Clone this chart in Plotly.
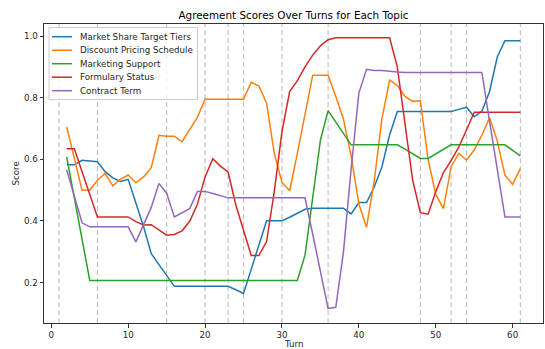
import plotly.graph_objects as go

turns = list(range(2, 62))

market_share = ([0.582, 0.582, 0.597, 0.595, 0.592, 0.560, 0.540, 0.528, 0.535, 0.458] +
                [0.382, 0.294, 0.259, 0.224, 0.188, 0.188, 0.188, 0.188, 0.188, 0.188] +
                [0.188, 0.188, 0.177, 0.165, 0.243, 0.322, 0.401, 0.401, 0.401, 0.412] +
                [0.425, 0.438, 0.441, 0.441, 0.441, 0.441, 0.441, 0.423, 0.460, 0.460] +
                [0.510, 0.576, 0.679, 0.755, 0.755, 0.755, 0.755, 0.755, 0.755, 0.755] +
                [0.755, 0.762, 0.769, 0.738, 0.756, 0.820, 0.932, 0.985, 0.985, 0.985])

discount = ([0.705, 0.603, 0.500, 0.500, 0.532, 0.554, 0.514, 0.536, 0.549, 0.524] +
            [0.543, 0.573, 0.678, 0.675, 0.675, 0.657, 0.695, 0.736, 0.795, 0.795] +
            [0.795, 0.795, 0.795, 0.795, 0.850, 0.838, 0.782, 0.619, 0.525, 0.498] +
            [0.619, 0.749, 0.873, 0.873, 0.873, 0.804, 0.730, 0.610, 0.455, 0.380] +
            [0.530, 0.731, 0.857, 0.839, 0.804, 0.788, 0.790, 0.600, 0.487, 0.440] +
            [0.576, 0.619, 0.597, 0.630, 0.678, 0.735, 0.660, 0.549, 0.519, 0.570])

marketing = ([0.608, 0.475, 0.341, 0.207, 0.207, 0.207, 0.207, 0.207, 0.207, 0.207] +
             [0.207, 0.207, 0.207, 0.207, 0.207, 0.207, 0.207, 0.207, 0.207, 0.207] +
             [0.207, 0.207, 0.207, 0.207, 0.207, 0.207, 0.207, 0.207, 0.207, 0.207] +
             [0.207, 0.289, 0.484, 0.662, 0.758, 0.722, 0.686, 0.647, 0.647, 0.647] +
             [0.647, 0.647, 0.647, 0.647, 0.633, 0.618, 0.603, 0.603, 0.618, 0.633] +
             [0.647, 0.647, 0.647, 0.647, 0.647, 0.647, 0.647, 0.647, 0.629, 0.611])

formulary = ([0.634, 0.634, 0.560, 0.487, 0.413, 0.413, 0.413, 0.413, 0.413, 0.398] +
             [0.387, 0.388, 0.371, 0.354, 0.356, 0.368, 0.399, 0.454, 0.543, 0.602] +
             [0.578, 0.558, 0.452, 0.366, 0.288, 0.288, 0.333, 0.495, 0.690, 0.820] +
             [0.855, 0.900, 0.938, 0.968, 0.988, 0.994, 0.994, 0.994, 0.994, 0.994] +
             [0.994, 0.994, 0.994, 0.900, 0.720, 0.532, 0.427, 0.422, 0.495, 0.557] +
             [0.596, 0.640, 0.695, 0.753, 0.753, 0.753, 0.753, 0.753, 0.753, 0.753])

contract = ([0.566, 0.479, 0.394, 0.381, 0.381, 0.381, 0.381, 0.381, 0.381, 0.332] +
            [0.387, 0.444, 0.522, 0.490, 0.413, 0.427, 0.440, 0.496, 0.496, 0.489] +
            [0.482, 0.475, 0.475, 0.475, 0.475, 0.475, 0.475, 0.475, 0.475, 0.475] +
            [0.475, 0.475, 0.357, 0.236, 0.116, 0.120, 0.300, 0.570, 0.815, 0.892] +
            [0.888, 0.888, 0.885, 0.883, 0.882, 0.882, 0.882, 0.882, 0.882, 0.882] +
            [0.882, 0.882, 0.882, 0.882, 0.882, 0.723, 0.568, 0.413, 0.413, 0.413])

event_turns = [1, 6, 15, 20, 23, 25, 30, 36, 48, 52, 54, 61]

series_names = ["Market Share Target Tiers", "Discount Pricing Schedule",
                "Marketing Support", "Formulary Status", "Contract Term"]
series_values = [market_share, discount, marketing, formulary, contract]
colors = ["#1f77b4", "#ff7f0e", "#2ca02c", "#d62728", "#9467bd"]

x_ticks = [0, 10, 20, 30, 40, 50, 60]
y_ticks = [0.2, 0.4, 0.6, 0.8, 1.0]

FONT = "DejaVu Sans"
fs = 8.7
W, H = 545, 349
ML, MR, MT, MB = 44, 2, 24, 26
PW, PH = W - ML - MR, H - MT - MB


def px_x(p):
    return (p - ML) / PW


def px_y(p):
    return 1 - (p - MT) / PH


fig = go.Figure()
for name, vals, c in zip(series_names, series_values, colors):
    fig.add_trace(go.Scatter(x=turns, y=vals, mode="lines", name=name,
                             line=dict(color=c, width=1.5), showlegend=False))

for t in event_turns:
    fig.add_shape(type="line", xref="x", yref="paper", x0=t, x1=t, y0=0, y1=1,
                  line=dict(color="rgba(128,128,128,0.5)", width=1.1, dash="5px,3px"),
                  layer="below")

# legend box (matplotlib-style, upper left)
fig.add_shape(type="rect", xref="paper", yref="paper",
              x0=px_x(49), x1=px_x(197.5), y0=px_y(99.5), y1=px_y(27.5),
              line=dict(color="#cccccc", width=1), fillcolor="rgba(255,255,255,0.8)",
              layer="above")
annotations = []
for i, (name, c) in enumerate(zip(series_names, colors)):
    yc = px_y(36.7 + 13.5 * i)
    fig.add_shape(type="line", xref="paper", yref="paper",
                  x0=px_x(52), x1=px_x(72), y0=yc, y1=yc,
                  line=dict(color=c, width=1.5), layer="above")
    annotations.append(dict(text=name, xref="paper", yref="paper", x=px_x(77.5), y=yc,
                            xanchor="left", yanchor="middle", showarrow=False,
                            font=dict(family=FONT, size=fs, color="#262626")))

annotations.append(dict(text="Turn", xref="paper", yref="paper", x=0.5, y=-(343.5 - (H - MB)) / PH,
                        xanchor="center", yanchor="middle", showarrow=False,
                        font=dict(family=FONT, size=fs, color="#262626")))
annotations.append(dict(text="Score", xref="paper", yref="paper", x=-(ML - 15) / PW, y=0.5,
                        xanchor="center", yanchor="middle", showarrow=False, textangle=-90,
                        font=dict(family=FONT, size=fs, color="#262626")))

axis_common = dict(showline=True, mirror=True, linecolor="#333333", linewidth=1,
                   ticks="outside", ticklen=3.5, tickwidth=1, tickcolor="#333333",
                   showgrid=False, zeroline=False, automargin=False,
                   tickfont=dict(family=FONT, size=fs, color="#262626"))

fig.update_layout(
    width=W, height=H,
    margin=dict(l=ML, r=MR, t=MT, b=MB),
    paper_bgcolor="white", plot_bgcolor="white",
    font=dict(family=FONT, size=fs, color="#262626"),
    title=dict(text="Agreement Scores Over Turns for Each Topic",
               x=0.5, xref="paper", xanchor="center",
               y=1 - 15.5 / H, yref="container", yanchor="middle",
               font=dict(family=FONT, size=10.4, color="#000000")),
    xaxis=dict(range=[-0.95, 63.95], tickvals=x_ticks, **axis_common),
    yaxis=dict(range=[0.069, 1.039], tickvals=y_ticks, tickformat=".1f", **axis_common),
    annotations=annotations,
    showlegend=False,
    hovermode=False,
)

fig.write_html("out.html", config={"displayModeBar": False, "staticPlot": True},
               post_script="document.body.style.margin='0';document.body.style.overflow='hidden';")
